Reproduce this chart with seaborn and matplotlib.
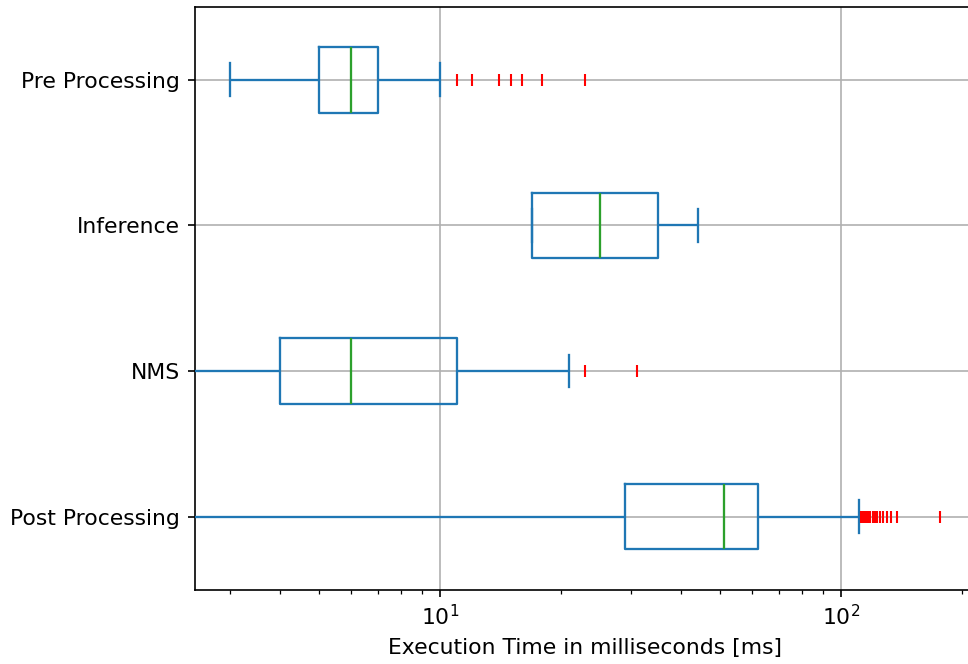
import pandas as pd
import numpy as np
import seaborn as sns
import matplotlib.pyplot as plt

# execution times per stage in ms
stages = ["Pre Processing", "Inference", "NMS", "Post Processing"]

pre_processing = [3, 4, 4, 4, 4, 5, 5, 5, 5, 5, 5, 5, 5, 6, 6, 6, 6, 6, 6, 6, 6, 6, 6,
                  7, 7, 7, 7, 7, 7, 7, 7, 8, 9, 10, 11, 12, 14, 15, 16, 18, 23]
inference = [17, 17, 17, 20, 25, 30, 35, 40, 44]
nms = [1, 2, 3, 4, 5, 5, 6, 8, 10, 11, 21, 23, 31]
post_processing = [1, 3, 5, 8, 10, 12, 14, 16, 18, 19, 20, 21, 22, 23, 24, 25, 26, 27, 28, 28,
                   29, 30, 31, 32, 33, 34, 35, 36, 37, 38, 39, 40, 41, 42, 43, 44, 46, 47, 48, 50,
                   51, 52, 52, 53, 53, 54, 54, 55, 55, 56, 56, 57, 57, 58, 58, 59, 59, 60, 60, 61,
                   62, 70, 85, 111,
                   112, 113, 114, 115, 116, 117, 118, 120, 121, 122, 123, 125, 127, 130, 133, 138, 177]

times = [pre_processing, inference, nms, post_processing]
df = pd.DataFrame({
    "Stage": np.repeat(stages, [len(t) for t in times]),
    "Time": np.concatenate(times),
})

plt.rcParams["font.family"] = ["DejaVu Sans"]
plt.rcParams["font.size"] = 10.5

fig = plt.figure(figsize=(968 / 150, 664 / 150), dpi=150)
ax = fig.add_axes([194.5 / 968, 74.5 / 664, (976 - 194.5) / 968, (589.5 - 7) / 664])

sns.boxplot(data=df, x="Time", y="Stage", order=stages, orient="h", ax=ax,
            width=0.45, fill=False, color="#1f77b4", linewidth=1.1,
            boxprops={"color": "#1f77b4", "zorder": 3},
            whiskerprops={"color": "#1f77b4", "zorder": 3},
            capprops={"color": "#1f77b4", "zorder": 3},
            medianprops={"color": "#2ca02c", "zorder": 3},
            flierprops={"marker": "|", "markeredgecolor": "red", "markerfacecolor": "red",
                        "markersize": 6, "markeredgewidth": 1, "zorder": 3})

ax.set_xscale("log")
ax.set_xlim(2.443, 217.1)
ax.set_ylim(3.5, -0.5)
ax.grid(True, color="#b0b0b0", linewidth=0.8, zorder=1)
ax.set_axisbelow(True)
ax.tick_params(labelsize=10.5)
ax.set_xlabel("Execution Time in milliseconds [ms]", fontsize=10.5)
ax.set_ylabel("")

fig.savefig("out.png", dpi=150)
